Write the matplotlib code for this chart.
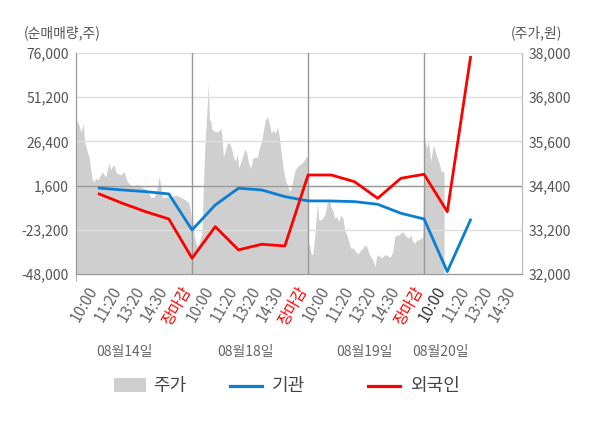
import matplotlib
matplotlib.use("Agg")
import matplotlib.pyplot as plt
import matplotlib.transforms as mtransforms
from matplotlib.patches import Rectangle
from matplotlib.lines import Line2D
import numpy as np

plt.rcParams['font.family'] = ['Noto Sans CJK KR', 'DejaVu Sans']

# x tick labels (one per slot, 4 sessions)
tick_labels = ['10:00', '11:20', '13:20', '14:30', '장마감',
               '10:00', '11:20', '13:20', '14:30', '장마감',
               '10:00', '11:20', '13:20', '14:30', '장마감',
               '10:00', '11:20', '13:20', '14:30']
day_labels = ['08월14일', '08월18일', '08월19일', '08월20일']
series_names = ['주가', '기관', '외국인']

# net buying (shares), one value per slot 1..17
inst = [200, -860, -1800, -3100, -23300, -9300, 100, -860, -4600, -7000,
        -7050, -7400, -8900, -13950, -17150, -46700, -17700]
foreign = [-3100, -8330, -13050, -17150, -39200, -21460, -34500, -31340, -32300, 7550,
           7550, 3800, -5550, 5700, 7950, -13050, 73600]

# stock price (won), intraday position in slot units
price_t = [0.00, 0.06, 0.13, 0.20, 0.27, 0.31, 0.37, 0.43, 0.49, 0.56, 0.63, 0.70, 0.78, 0.85,
           0.95, 1.06, 1.13, 1.21, 1.28, 1.35, 1.42, 1.50, 1.56, 1.64, 1.71, 1.78, 1.93, 2.07,
           2.14, 2.21, 2.36, 2.50, 2.64, 2.79, 2.93, 3.07, 3.22, 3.36, 3.48, 3.58, 3.65, 3.72,
           3.87, 4.01, 4.15, 4.30, 4.44, 4.58, 4.73, 4.87, 4.94, 5.00,
           5.05, 5.09, 5.17, 5.26, 5.34, 5.43, 5.49, 5.55, 5.60, 5.66, 5.70, 5.75, 5.81, 5.86,
           5.92, 6.00, 6.12, 6.24, 6.29, 6.35, 6.44, 6.52, 6.61, 6.70, 6.78, 6.87, 6.95, 7.01,
           7.10, 7.18, 7.27, 7.36, 7.44, 7.53, 7.61, 7.70, 7.82, 7.90, 7.99, 8.07, 8.16, 8.25,
           8.33, 8.42, 8.50, 8.59, 8.68, 8.76, 8.85, 8.94, 9.02, 9.11, 9.19, 9.28, 9.37, 9.45,
           9.54, 9.63, 9.71, 9.80, 9.88, 9.97,
           10.02, 10.06, 10.12, 10.20, 10.29, 10.34, 10.40, 10.46, 10.55, 10.63, 10.72, 10.81,
           10.86, 10.92, 10.98, 11.06, 11.15, 11.24, 11.32, 11.41, 11.50, 11.58, 11.67, 11.75,
           11.84, 11.93, 12.01, 12.10, 12.18, 12.27, 12.36, 12.44, 12.53, 12.62, 12.70, 12.79,
           12.88, 12.96, 13.05, 13.13, 13.22, 13.31, 13.39, 13.48, 13.56, 13.65, 13.74, 13.82,
           13.91, 14.00, 14.08, 14.17, 14.25, 14.34, 14.43, 14.51, 14.60, 14.68, 14.77, 14.86,
           14.94,
           15.01, 15.06, 15.12, 15.17, 15.23, 15.29, 15.34, 15.40, 15.49, 15.52, 15.57, 15.63,
           15.69, 15.75, 15.86]
price_v = [36227, 36135, 36045, 35863, 35955, 36090, 35592, 35456, 35320, 35185, 34870, 34552,
           34506, 34600, 34552, 34688, 34778, 34688, 34642, 34823, 35022, 34823, 34913, 34959,
           34778, 34733, 34688, 34778, 34642, 34506, 34416, 34370, 34435, 34370, 34326, 34280,
           34082, 34082, 34280, 34642, 34416, 34082, 34082, 34118, 34100, 34145, 34100, 34055,
           34010, 33920, 33648, 33300,
           33450, 33013, 32833, 32741, 32923, 33105, 34370, 35456, 35955, 36634, 37177, 36181,
           36135, 35910, 35910, 35863, 35863, 35955, 35774, 35185, 35366, 35548, 35565, 35412,
           35185, 35049, 35276, 34870, 35049, 35185, 35385, 35276, 35005, 34870, 35141, 35168,
           35168, 35412, 35592, 35863, 36181, 36271, 36091, 35820, 35910, 35820, 35999, 35727,
           35230, 34823, 34552, 34416, 34234, 34326, 34642, 34823, 34913, 34959, 35005, 35049,
           35141, 35204,
           32741, 32833, 32562, 32516, 33013, 33466, 33919, 33466, 33466, 33512, 33602, 33873,
           34055, 34010, 33828, 33738, 33512, 33556, 33420, 33602, 33512, 33194, 33059, 32877,
           32698, 32698, 32651, 32562, 32562, 32651, 32698, 32787, 32741, 32562, 32470, 32380,
           32198, 32470, 32516, 32425, 32470, 32516, 32516, 32470, 32470, 32606, 33013, 33059,
           33059, 33105, 33150, 33059, 33013, 32968, 33059, 32877, 32833, 32923, 32923, 32968,
           33000,
           35774, 35548, 35412, 35638, 35366, 35049, 35276, 35502, 35320, 35230, 35141, 35049,
           34913, 34778, 34778]

GREY = '#cfcfcf'
BLUE = '#0a7ed1'
RED = '#ff0000'

W, H = 600, 428
fig = plt.figure(figsize=(W / 100, H / 100), dpi=100)
ax = fig.add_axes([0.1267, 0.36, 0.7433, 0.516])
ax2 = ax.twinx()
ax.set_zorder(ax2.get_zorder() + 1)
ax.patch.set_visible(False)
ax2.set_facecolor('#f4f4f4')

# price area on right axis
ax2.fill_between(price_t, price_v, 32000, color=GREY, linewidth=0)
ax2.set_ylim(32000, 38000)
rt = np.arange(32000, 38001, 1200)
ax2.set_yticks(rt)
ax2.set_yticklabels(['{:,}'.format(v) for v in rt])

slots = np.arange(1, len(inst) + 1)
ax.set_xlim(0, 19.22)
ax.set_ylim(-48000, 76000)
yt = np.arange(-48000, 76001, 24800)
ax.set_yticks(yt)
ax.set_yticklabels(['{:,}'.format(v) for v in yt])
ax.grid(axis='y', color='#dedede', linewidth=1, zorder=1)
ax.axhline(1600, color='#999999', linewidth=1, zorder=2)
for d in [5, 10, 15]:
    ax.axvline(d, color='#999999', linewidth=1, zorder=2)

ax.plot(slots, inst, color=BLUE, linewidth=2.0, zorder=4)
ax.plot(slots, foreign, color=RED, linewidth=2.0, zorder=5)

ax.set_xticks(np.arange(1, len(tick_labels) + 1))
ax.set_xticklabels(tick_labels, rotation=60, ha='right', va='center', rotation_mode='anchor')
ax.set_xticks([0, 5, 10, 15], minor=True)
ax.tick_params(axis='x', which='major', length=0, pad=10, labelsize=11, labelcolor='#666666')
ax.tick_params(axis='x', which='minor', length=5, color='#999999')
shift = mtransforms.ScaledTranslation(-5 / 100, 0, fig.dpi_scale_trans)
for i, lab in enumerate(ax.get_xticklabels()):
    lab.set_transform(lab.get_transform() + shift)
    if tick_labels[i] == '장마감':
        lab.set_color(RED)
    elif i == 15:
        lab.set_color('#333333')

ax.tick_params(axis='y', length=0, labelsize=10, labelcolor='#555555', pad=5)
ax2.tick_params(axis='y', length=0, labelsize=10, labelcolor='#555555', pad=5)

for a in (ax, ax2):
    a.spines['top'].set_visible(False)
    a.spines['left'].set_color('#999999')
    a.spines['right'].set_color('#bbbbbb')
    a.spines['bottom'].set_color('#999999')

day_pos = [2.1, 7.3, 12.45, 15.7]
blend = mtransforms.blended_transform_factory(ax.transData, fig.transFigure)
for x, lab in zip(day_pos, day_labels):
    ax.text(x, 0.177, lab, transform=blend, ha='center', va='center',
            fontsize=10, color='#666666')
fig.text(0.04, 0.905, '(순매매량,주)', fontsize=10, color='#555555', va='bottom')
fig.text(0.937, 0.905, '(주가,원)', fontsize=10, color='#555555', va='bottom', ha='right')

# legend row, laid out by hand (uneven gaps as in the source)
ly = 1 - 386 / H
fig.add_artist(Rectangle((114 / W, 1 - 392 / H), 32 / W, 14 / H,
                         transform=fig.transFigure, facecolor=GREY, edgecolor='none'))
fig.add_artist(Line2D([230 / W, 262 / W], [ly, ly], transform=fig.transFigure,
                      color=BLUE, linewidth=2.3))
fig.add_artist(Line2D([368 / W, 400 / W], [ly, ly], transform=fig.transFigure,
                      color=RED, linewidth=2.3))
for x, name in zip([153, 272, 410], series_names):
    fig.text(x / W, ly, name, fontsize=13, color='#444444', va='center', ha='left')

fig.savefig('out.png', dpi=100)
